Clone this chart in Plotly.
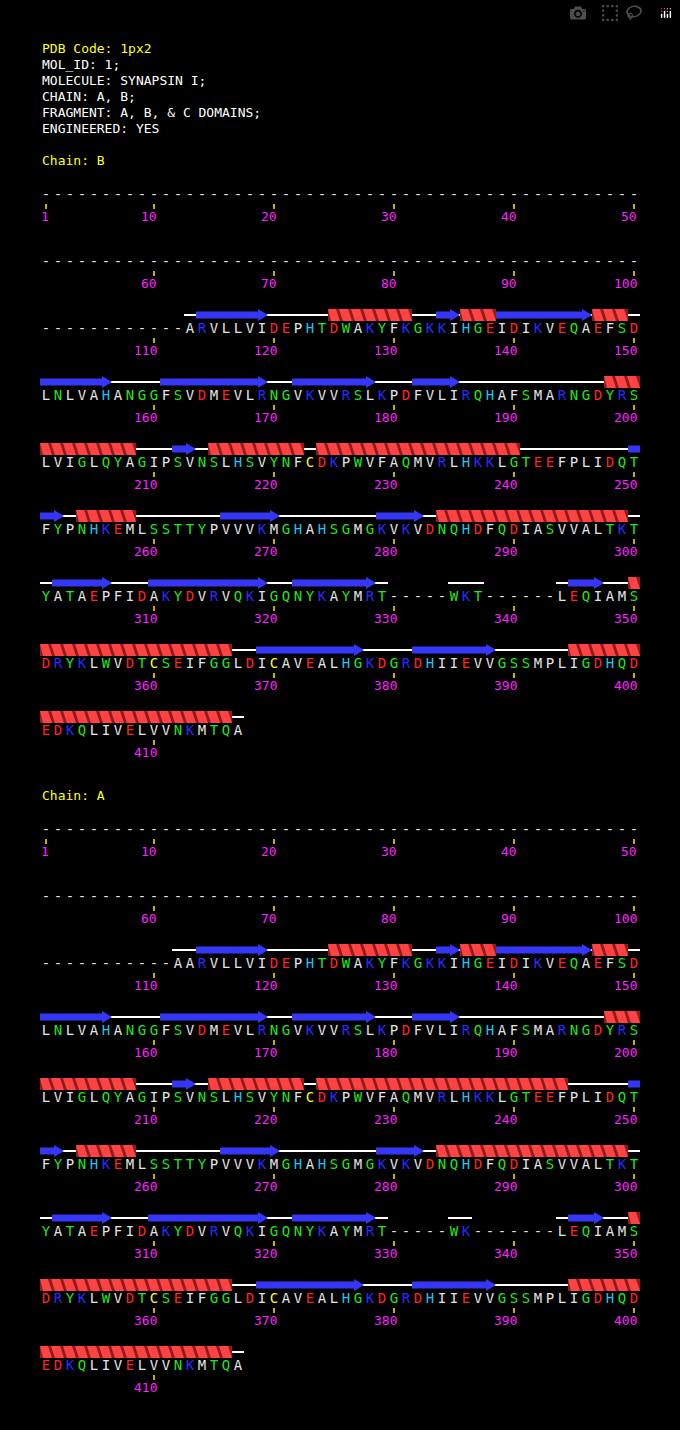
import plotly.graph_objects as go

# header lines
header_lines = ["MOL_ID: 1;", "MOLECULE: SYNAPSIN I;", "CHAIN: A, B;",
                "FRAGMENT: A, B, & C DOMAINS;", "ENGINEERED: YES"]
pdb_code = "1px2"

# sequences, residues 1..417, '-' = not observed
seq_b = ("-" * 112 + "ARVLLVIDEPHTDWAKYFKGKKIHGEIDIKVEQAEFSD"
         "LNLVAHANGGFSVDMEVLRNGVKVVRSLKPDFVLIRQHAFSMARNGDYRS"
         "LVIGLQYAGIPSVNSLHSVYNFCDKPWVFAQMVRLHKKLGTEEFPLIDQT"
         "FYPNHKEMLSSTTYPVVVKMGHAHSGMGKVKVDNQHDFQDIASVVALTKT"
         "YATAEPFIDAKYDVRVQKIGQNYKAYMRT-----WKT------LEQIAMS"
         "DRYKLWVDTCSEIFGGLDICAVEALHGKDGRDHIIEVVGSSMPLIGDHQD"
         "EDKQLIVELVVNKMTQA")
seq_a = ("-" * 111 + "AARVLLVIDEPHTDWAKYFKGKKIHGEIDIKVEQAEFSD"
         "LNLVAHANGGFSVDMEVLRNGVKVVRSLKPDFVLIRQHAFSMARNGDYRS"
         "LVIGLQYAGIPSVNSLHSVYNFCDKPWVFAQMVRLHKKLGTEEFPLIDQT"
         "FYPNHKEMLSSTTYPVVVKMGHAHSGMGKVKVDNQHDFQDIASVVALTKT"
         "YATAEPFIDAKYDVRVQKIGQNYKAYMRT-----WK-------LEQIAMS"
         "DRYKLWVDTCSEIFGGLDICAVEALHGKDGRDHIIEVVGSSMPLIGDHQD"
         "EDKQLIVELVVNKMTQA")

# secondary structure (type, first residue, last residue)
ss_b = [("E", 114, 119), ("H", 125, 131), ("E", 134, 135), ("H", 136, 138),
        ("E", 139, 146), ("H", 147, 149), ("E", 151, 156), ("E", 161, 169),
        ("E", 172, 178), ("E", 182, 185), ("H", 198, 208), ("E", 212, 213),
        ("H", 215, 222), ("H", 224, 240), ("E", 250, 252), ("H", 254, 258),
        ("E", 266, 270), ("E", 279, 282), ("H", 284, 299), ("E", 302, 306),
        ("E", 310, 319), ("E", 322, 328), ("E", 345, 347), ("H", 350, 366),
        ("E", 369, 377), ("E", 382, 388), ("H", 395, 416)]
ss_a = [s if s != ("H", 224, 240) else ("H", 224, 244) for s in ss_b]

chains = [("B", seq_b, ss_b, 160), ("A", seq_a, ss_a, 795)]

colour_of = {}
for c in "DE":
    colour_of[c] = "#ff2424"
for c in "KR":
    colour_of[c] = "#2a2aff"
for c in "NQSTGYW":
    colour_of[c] = "#22e622"
colour_of["H"] = "#22c4ee"
colour_of["C"] = "#ffff22"

PER_ROW = 50
X0 = 40      # left edge of first residue cell
CELL = 12
ROW_H = 67


def cell_left(res):
    return X0 + CELL * ((res - 1) % PER_ROW)


def row_of(res):
    return (res - 1) // PER_ROW


fig = go.Figure()
annotations = []

annotations.append(dict(x=X0, y=48, text="PDB Code: " + pdb_code, font=dict(color="#ffff22")))
for k, line in enumerate(header_lines):
    annotations.append(dict(x=X0, y=64 + 16 * k, text=line, font=dict(color="#ffffff")))

for name, seq, ss, label_y in chains:
    annotations.append(dict(x=X0, y=label_y, text="Chain: " + name, font=dict(color="#ffff22")))
    base = label_y + 35
    xs, ys, cols, txt = [], [], [], []
    tick_x, tick_y = [], []
    for i, c in enumerate(seq):
        res = i + 1
        y = base + ROW_H * row_of(res)
        x = cell_left(res) + CELL / 2
        xs.append(x)
        ys.append(y)
        txt.append(c)
        cols.append(colour_of.get(c, "#e4e4e4"))
        if res == 1 or res % 10 == 0:
            tick_x += [x, x, None]
            tick_y += [y + 9, y + 14, None]
            annotations.append(dict(x=x + 4.5, y=y + 21, text=str(res), xanchor="right",
                                    font=dict(color="#ff22ff")))
    fig.add_trace(go.Scatter(x=xs, y=ys, mode="text", text=txt,
                             textfont=dict(family="DejaVu Sans Mono", size=14, color=cols)))
    fig.add_trace(go.Scatter(x=tick_x, y=tick_y, mode="lines",
                             line=dict(color="#ffee00", width=1.5)))

    # coil line under every observed residue
    coil_x, coil_y = [], []
    for i, c in enumerate(seq):
        res = i + 1
        if c == "-":
            continue
        y = base + ROW_H * row_of(res) - 14
        coil_x += [cell_left(res), cell_left(res) + CELL, None]
        coil_y += [y, y, None]
    fig.add_trace(go.Scatter(x=coil_x, y=coil_y, mode="lines",
                             line=dict(color="#ffffff", width=2)))

    hx_dark_x, hx_dark_y, hx_x, hx_y = [], [], [], []
    st_x, st_y = [], []
    for kind, first, last in ss:
        r0, r1 = row_of(first), row_of(last)
        for r in range(r0, r1 + 1):
            a = max(first, r * PER_ROW + 1)
            b = min(last, (r + 1) * PER_ROW)
            yc = base + ROW_H * r - 14
            xl, xr = cell_left(a), cell_left(b) + CELL
            if kind == "H":
                yt, yb = yc - 6, yc + 6
                hx_dark_x += [xl, xr, xr, xl, xl, None]
                hx_dark_y += [yt, yt, yb, yb, yt, None]
                for res in range(a, b + 1):
                    cx = cell_left(res)
                    pts = [(cx - 1, yt), (cx + 8, yt), (cx + 12, yb), (cx + 3, yb)]
                    for px, py in pts + [pts[0]]:
                        hx_x.append(min(max(px, xl), xr))
                        hx_y.append(py)
                    hx_x.append(None)
                    hx_y.append(None)
            else:
                ends_here = (b == last)
                head = 10 if ends_here else 0
                pts = [(xl, yc - 3.5), (xr - head, yc - 3.5)]
                if ends_here:
                    pts += [(xr - head, yc - 6), (xr, yc), (xr - head, yc + 6)]
                pts += [(xr - head, yc + 3.5), (xl, yc + 3.5), (xl, yc - 3.5)]
                for px, py in pts:
                    st_x.append(px)
                    st_y.append(py)
                st_x.append(None)
                st_y.append(None)
    fig.add_trace(go.Scatter(x=hx_dark_x, y=hx_dark_y, mode="lines", fill="toself",
                             fillcolor="#8e1c1c", line=dict(width=0, color="#8e1c1c")))
    fig.add_trace(go.Scatter(x=hx_x, y=hx_y, mode="lines", fill="toself",
                             fillcolor="#ff4242", line=dict(width=0, color="#ff4242")))
    fig.add_trace(go.Scatter(x=st_x, y=st_y, mode="lines", fill="toself",
                             fillcolor="#3636f6", line=dict(width=0, color="#3636f6")))

for an in annotations:
    an.setdefault("xanchor", "left")
    an.update(xref="x", yref="y", yanchor="middle", showarrow=False)
    an["font"].update(family="DejaVu Sans Mono", size=13)

fig.update_layout(width=680, height=1430, margin=dict(l=0, r=0, t=0, b=0),
                  paper_bgcolor="#000000", plot_bgcolor="#000000", showlegend=False,
                  annotations=annotations,
                  xaxis=dict(range=[0, 680], visible=False, fixedrange=True),
                  yaxis=dict(range=[1430, 0], visible=False, fixedrange=True))
fig.write_html("out.html",
               post_script="document.body.style.margin='0';document.body.style.background='#000';")
